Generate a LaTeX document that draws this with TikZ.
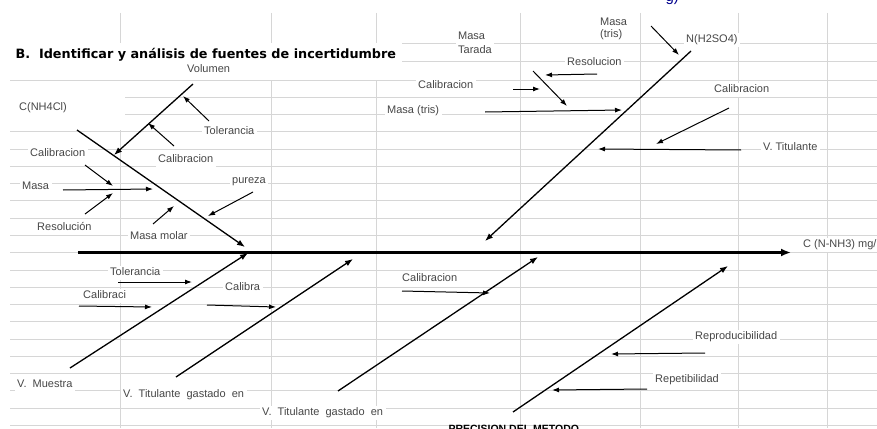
\documentclass[tikz,border=0pt]{standalone}
\usepackage{fontspec}
\setmainfont{Liberation Sans}
\newfontfamily\ttlfont{DejaVu Sans}
\newfontfamily\widefont{Liberation Sans}[WordSpace=2]
\usetikzlibrary{arrows.meta}
\tikzset{
  gridln/.style={draw=black!16, line width=0.8pt},
  spine/.style={-{Latex[length=10pt,width=8pt]}, line width=3pt},
  bone/.style={-{Latex[length=8pt,width=6pt]}, line width=1.3pt},
  cause/.style={-{Latex[length=7pt,width=5pt]}, line width=1pt},
  lbl/.style={anchor=west, fill=white, inner sep=2.5pt, text=black!72, text height=7.5pt, text depth=2pt, font=\fontsize{11}{13}\selectfont},
  lbltwo/.style={anchor=west, fill=white, inner sep=2.5pt, text=black!72, align=left},
  widelbl/.style={lbl, font=\widefont\fontsize{11}{13}\selectfont},
  ttl/.style={anchor=base west, font=\ttlfont\bfseries\fontsize{12.8}{14}\selectfont}
}
\begin{document}
\begin{tikzpicture}[x=1pt,y=-1pt]
\useasboundingbox (0,0) rectangle (877,428);
% rejilla de la hoja
\foreach \gx in {120,271,376,520,640,738,827}
  \draw[gridln] (\gx,13) -- (\gx,428);
\foreach \gy in {43,61.5}
  \draw[gridln] (10,\gy) -- (877,\gy);
\foreach \k in {0,...,20}
  \draw[gridln] (10,80+17.27*\k) -- (877,80+17.27*\k);
\fill[white] (10,43.5) rectangle (402,79.5);
\fill[white] (10,80.5) rectangle (125,130);

% textos
\node[anchor=base west, text=blue!55!black, font=\fontsize{15}{15}\selectfont] (gfrag) at (662,1.5) {g)};
\node[ttl] (ttl) at (12,58.5) {B.\ \ Identificar y análisis de fuentes de incertidumbre};
\node[lbl] (cnh) at (16.5,108) {C(NH4Cl)};
\node[lbl] (vol) at (184.5,70) {Volumen};
\node[lbl] (tolA) at (201.5,132) {Tolerancia};
\node[lbl] (calA) at (27.5,154) {Calibracion};
\node[lbl] (calB) at (155.5,160) {Calibracion};
\node[lbl] (masaA) at (19.5,187) {Masa};
\node[lbl] (pur) at (229.5,181) {pureza};
\node[lbl] (resA) at (34.5,228) {Resolución};
\node[lbl] (mmol) at (127.5,237) {Masa molar};
\node[lbl] (tolB) at (107.5,273) {Tolerancia};
\node[lbl] (calC) at (80.5,296) {Calibraci};
\node[lbl] (calD) at (222.5,288) {Calibra};
\node[lbl] (calE) at (399.5,279) {Calibracion};
\node[widelbl] (vmu) at (14.5,385) {V. Muestra};
\node[widelbl] (vtA) at (120.5,395) {V. Titulante gastado en};
\node[widelbl] (vtB) at (259.5,413) {V. Titulante gastado en};
\node[lbl] (repro) at (692.5,337) {Reproducibilidad};
\node[lbl] (repe) at (652.5,380) {Repetibilidad};
\node[anchor=base west, font=\bfseries\fontsize{10.5}{12}\selectfont] (prec) at (445,432) {PRECISION DEL METODO};
\node[lbltwo, font=\fontsize{11}{12.5}\selectfont] (mtris) at (597.5,29) {Masa\\(tris)};
\node[lbltwo, font=\fontsize{11}{14}\selectfont] (mtar) at (455.5,43) {Masa\\Tarada};
\node[lbl] (resB) at (564.5,63) {Resolucion};
\node[lbl] (calF) at (415.5,86) {Calibracion};
\node[lbl] (mtrisB) at (384.5,111) {Masa (tris)};
\node[lbl] (nh2) at (683.5,40) {N(H2SO4)};
\node[lbl] (calG) at (711.5,90) {Calibracion};
\node[lbl] (vtit) at (760.5,148) {V. Titulante};
\node[lbl] (cnn) at (800.5,245) {C (N-NH3) mg/};

% extremos de las flechas
\coordinate (sp0) at (78,252.5);
\coordinate (sp1) at (791,252.5);
\coordinate (ca0) at (77,130);
\coordinate (ca1) at (245,247);
\coordinate (vo0) at (193,84);
\coordinate (vo1) at (114,155);
\coordinate (to0) at (209,121);
\coordinate (to1) at (183,96);
\coordinate (ka0) at (174,146);
\coordinate (ka1) at (148,123);
\coordinate (kb0) at (85,165);
\coordinate (kb1) at (113,186);
\coordinate (ma0) at (63,190);
\coordinate (ma1) at (153,189);
\coordinate (ra0) at (85,214);
\coordinate (ra1) at (113,193);
\coordinate (mm0) at (153,224);
\coordinate (mm1) at (174,206);
\coordinate (pu0) at (253,192);
\coordinate (pu1) at (208,216);
\coordinate (vm0) at (70,368);
\coordinate (vm1) at (248,253);
\coordinate (tb0) at (118,282);
\coordinate (tb1) at (192,282);
\coordinate (kc0) at (79,306);
\coordinate (kc1) at (152,307);
\coordinate (va0) at (176,377);
\coordinate (va1) at (353,259);
\coordinate (kd0) at (207,305);
\coordinate (kd1) at (276,307);
\coordinate (vb0) at (338,391);
\coordinate (vb1) at (538,257);
\coordinate (ke0) at (402,291);
\coordinate (ke1) at (490,293);
\coordinate (pr0) at (513,412);
\coordinate (pr1) at (728,266);
\coordinate (rp0) at (705,353);
\coordinate (rp1) at (611,354);
\coordinate (rt0) at (647,389);
\coordinate (rt1) at (552,390);
\coordinate (nh0) at (691,51);
\coordinate (nh1) at (485,241);
\coordinate (mt0) at (651,26);
\coordinate (mt1) at (679,55);
\coordinate (rb0) at (597,74);
\coordinate (rb1) at (545,75);
\coordinate (md0) at (533,71);
\coordinate (md1) at (567,106);
\coordinate (kf0) at (513,89);
\coordinate (kf1) at (540,89);
\coordinate (mh0) at (485,112);
\coordinate (mh1) at (622,110);
\coordinate (kg0) at (729,108);
\coordinate (kg1) at (656,144);
\coordinate (vt0) at (741,150);
\coordinate (vt1) at (598,149);

% espina y ramas
\draw[spine] (sp0) -- (sp1);
\foreach \a/\b in {ca0/ca1,vm0/vm1,va0/va1,vb0/vb1,pr0/pr1,nh0/nh1,vo0/vo1}
  \draw[bone] (\a) -- (\b);
\foreach \a/\b in {to0/to1,ka0/ka1,kb0/kb1,ma0/ma1,ra0/ra1,mm0/mm1,pu0/pu1,tb0/tb1,kc0/kc1,kd0/kd1,ke0/ke1,rp0/rp1,rt0/rt1,mt0/mt1,rb0/rb1,md0/md1,kf0/kf1,mh0/mh1,kg0/kg1,vt0/vt1}
  \draw[cause] (\a) -- (\b);
\end{tikzpicture}
\end{document}
